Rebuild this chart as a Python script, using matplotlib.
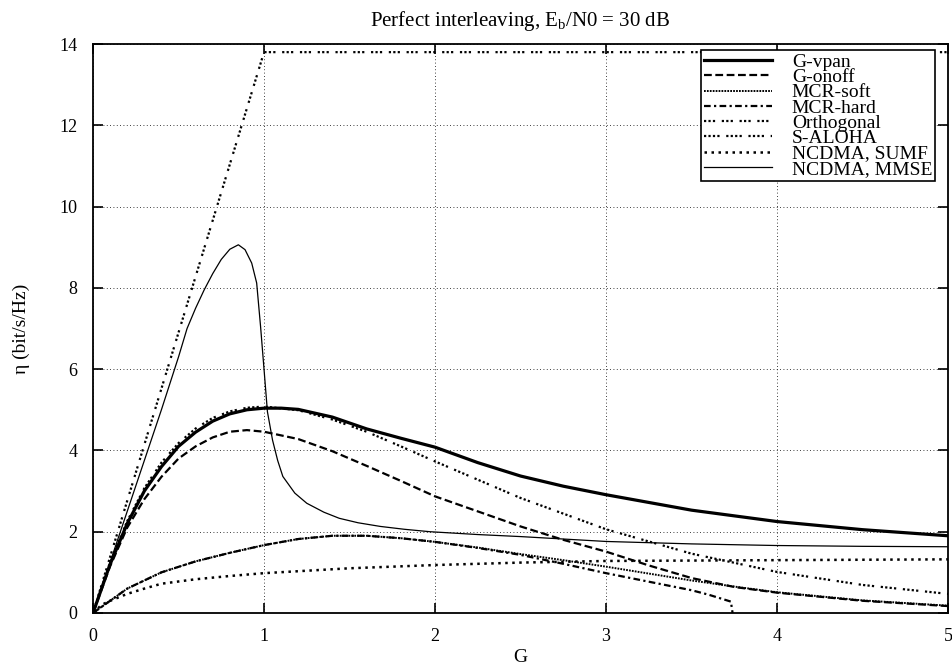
import numpy as np
import matplotlib.pyplot as plt

plt.rcParams['font.family'] = ['Liberation Serif', 'DejaVu Serif']
plt.rcParams['mathtext.fontset'] = 'custom'
plt.rcParams['mathtext.rm'] = 'Liberation Serif'

# throughput curves, eta in bit/s/Hz versus offered load G
g_vpan = [0, 0.1, 0.2, 0.3, 0.4, 0.5, 0.6, 0.7, 0.8, 0.9, 1.0, 1.1, 1.2, 1.4, 1.6, 1.8,
          2.0, 2.25, 2.5, 2.75, 3.0, 3.5, 4.0, 4.5, 5.0]
eta_vpan = [0, 1.2, 2.2, 3.0, 3.6, 4.1, 4.45, 4.72, 4.9, 5.0, 5.04, 5.04, 5.01, 4.82, 4.53, 4.3,
            4.08, 3.7, 3.37, 3.12, 2.91, 2.53, 2.25, 2.05, 1.90]

g_onoff = [0, 0.1, 0.2, 0.3, 0.4, 0.5, 0.6, 0.7, 0.8, 0.9, 1.0, 1.2, 1.4, 1.6, 1.8, 2.0,
           2.25, 2.5, 2.75, 3.0, 3.25, 3.5, 3.75, 4.0, 4.5, 5.0]
eta_onoff = [0, 1.15, 2.1, 2.8, 3.35, 3.8, 4.1, 4.32, 4.46, 4.5, 4.46, 4.28, 3.98, 3.62, 3.25, 2.87,
             2.5, 2.13, 1.8, 1.51, 1.17, 0.86, 0.64, 0.5, 0.3, 0.17]

g_mcr_soft = [0, 0.1, 0.2, 0.4, 0.6, 0.8, 1.0, 1.2, 1.4, 1.6, 1.8, 2.0, 2.25, 2.5, 2.75,
              3.0, 3.25, 3.5, 3.75, 4.0, 4.5, 5.0]
eta_mcr_soft = [0, 0.3, 0.6, 1.0, 1.27, 1.48, 1.67, 1.82, 1.9, 1.9, 1.84, 1.75, 1.61, 1.45, 1.3,
                1.14, 0.97, 0.8, 0.65, 0.51, 0.31, 0.18]

g_mcr_hard = [0, 0.1, 0.2, 0.4, 0.6, 0.8, 1.0, 1.2, 1.4, 1.6, 1.8, 2.0, 2.25, 2.5, 2.75,
              3.0, 3.25, 3.5, 3.6, 3.73, 3.74]
eta_mcr_hard = [0, 0.3, 0.6, 1.0, 1.27, 1.48, 1.67, 1.82, 1.9, 1.9, 1.84, 1.75, 1.6, 1.43, 1.21,
                0.98, 0.77, 0.56, 0.45, 0.28, 0.0]

g_orth = [0, 1.0, 5.0]
eta_orth = [0, 13.8, 13.8]

g_aloha = [0, 0.1, 0.2, 0.3, 0.4, 0.5, 0.6, 0.7, 0.8, 0.9, 1.0, 1.2, 1.4, 1.6, 1.8, 2.0,
           2.5, 3.0, 3.5, 4.0, 4.5, 5.0]
eta_aloha = [0, 1.25, 2.26, 3.07, 3.70, 4.18, 4.54, 4.80, 4.96, 5.05, 5.08, 4.99, 4.76, 4.46,
             4.10, 3.73, 2.83, 2.06, 1.46, 1.01, 0.69, 0.47]

g_sumf = [0, 0.05, 0.1, 0.2, 0.3, 0.4, 0.6, 0.8, 1.0, 1.5, 2.0, 2.5, 3.0, 3.5, 4.0, 4.5, 5.0]
eta_sumf = [0, 0.2, 0.3, 0.47, 0.6, 0.72, 0.83, 0.91, 0.98, 1.1, 1.18, 1.24, 1.28, 1.29, 1.3,
            1.31, 1.32]

g_mmse = [0, 0.1, 0.2, 0.3, 0.4, 0.5, 0.55, 0.6, 0.65, 0.7, 0.75, 0.8, 0.85, 0.889, 0.928,
          0.957, 0.98, 1.0, 1.02, 1.05, 1.08, 1.11, 1.18, 1.25, 1.35, 1.44, 1.55, 1.68, 1.82,
          1.97, 2.25, 2.5, 3.0, 3.5, 4.0, 4.5, 5.0]
eta_mmse = [0, 1.25, 2.5, 3.75, 5.0, 6.3, 7.0, 7.5, 7.95, 8.35, 8.7, 8.95, 9.06, 8.94, 8.61,
            8.12, 7.04, 6.0, 4.95, 4.25, 3.75, 3.36, 2.95, 2.70, 2.48, 2.33, 2.22, 2.13, 2.06,
            2.0, 1.93, 1.88, 1.76, 1.70, 1.66, 1.64, 1.63]

fig = plt.figure(figsize=(9.53, 6.66), dpi=100)
ax = fig.add_axes([0.0976, 0.0796, 0.8972, 0.8543])

ax.plot(g_vpan, eta_vpan, color='black', lw=2.3, label='G-vpan')
ax.plot(g_onoff, eta_onoff, color='black', lw=1.6, linestyle=(0, (3.5, 1.6)), label='G-onoff')
ax.plot(g_mcr_soft, eta_mcr_soft, color='black', lw=1.4, linestyle=(0, (0.9, 0.6)), label='MCR-soft')
ax.plot(g_mcr_hard, eta_mcr_hard, color='black', lw=1.6, linestyle=(0, (3, 1.5, 1, 1.5)),
        label='MCR-hard')
ax.plot(g_orth, eta_orth, color='black', lw=1.6, linestyle=(0, (1, 1, 1, 1, 1, 3)),
        label='Orthogonal')
ax.plot(g_aloha, eta_aloha, color='black', lw=1.6, linestyle=(0, (1, 1, 1, 1, 1, 1, 1, 3)),
        label='S-ALOHA')
ax.plot(g_sumf, eta_sumf, color='black', lw=1.8, linestyle=(0, (1, 1.8)), label='NCDMA, SUMF')
ax.plot(g_mmse, eta_mmse, color='black', lw=0.9, label='NCDMA, MMSE')

ax.set_xlim(0, 5)
ax.set_ylim(0, 14)
ax.set_xticks(range(0, 6))
ax.set_yticks(range(0, 15, 2))
ax.grid(True, color='black', lw=0.6, linestyle=(0, (1, 3)))
ax.tick_params(direction='in', length=7, width=1.2, top=True, right=True, labelsize=13, pad=11)
for s in ax.spines.values():
    s.set_linewidth(1.3)

ax.set_title('Perfect interleaving, E$_\\mathregular{b}$/N0 = 30 dB', fontsize=15, pad=13)
ax.set_xlabel('G', fontsize=14, labelpad=3)
ax.set_ylabel('η (bit/s/Hz)', fontsize=14, labelpad=21)

leg = ax.legend(loc='upper right', bbox_to_anchor=(0.985, 0.989), fontsize=14,
                frameon=True, fancybox=False, framealpha=1, edgecolor='black',
                borderaxespad=0, borderpad=0.15, labelspacing=-0.12, handlelength=3.5,
                handletextpad=1.0)
leg.get_frame().set_linewidth(1.2)

fig.savefig('out.png', dpi=100)
